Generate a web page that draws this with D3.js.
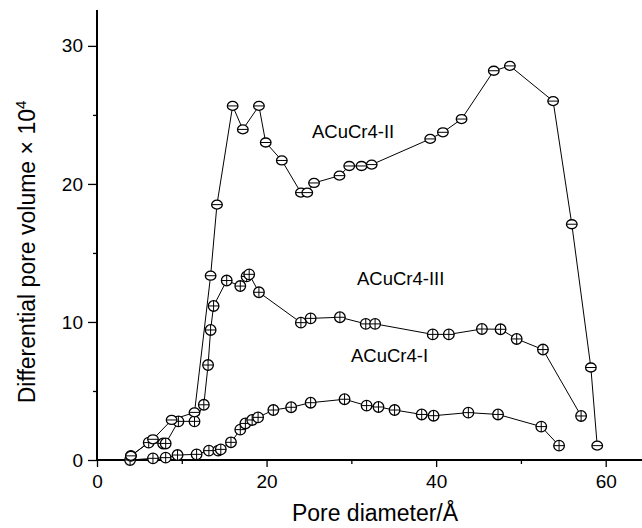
<!DOCTYPE html>
<html>
<head>
<meta charset="utf-8">
<script src="https://cdn.jsdelivr.net/npm/d3@7"></script>
<style>
  body { margin: 0; background: #fff; }
  svg { font-family: "Liberation Sans", Arial, sans-serif; }
</style>
</head>
<body>
<div id="chart"></div>
<script>
// pore size distributions
var seriesNames = ["ACuCr4-II", "ACuCr4-III", "ACuCr4-I"];

var xII = [4.0, 6.6, 8.8, 11.5, 13.4, 14.15, 16.0, 17.2, 19.1, 19.9, 21.8, 24.05, 24.8, 25.6, 28.6, 29.75, 31.2, 32.4, 39.3, 40.8, 43.0, 46.8, 48.7, 53.8, 56.0, 58.25, 59.0];
var yII = [0.3, 1.5, 2.9, 3.45, 13.35, 18.5, 25.65, 23.95, 25.65, 23.0, 21.7, 19.37, 19.37, 20.07, 20.6, 21.3, 21.3, 21.4, 23.26, 23.74, 24.7, 28.2, 28.55, 26.0, 17.08, 6.7, 1.04];

var xIII = [4.0, 6.1, 7.8, 8.1, 9.6, 11.5, 12.6, 13.1, 13.4, 13.75, 15.3, 16.9, 17.65, 17.95, 19.1, 24.05, 25.2, 28.65, 31.7, 32.8, 39.6, 41.5, 45.4, 47.6, 49.5, 52.6, 57.1];
var yIII = [0.3, 1.26, 1.2, 1.2, 2.8, 2.8, 4.0, 6.88, 9.42, 11.16, 13.0, 12.6, 13.3, 13.45, 12.15, 9.95, 10.26, 10.34, 9.86, 9.86, 9.1, 9.1, 9.49, 9.47, 8.77, 8.0, 3.19];

var xI = [3.9, 6.6, 8.1, 9.5, 11.75, 13.2, 14.3, 14.6, 15.8, 16.9, 17.5, 18.3, 19.0, 20.8, 22.9, 25.2, 29.2, 31.8, 33.2, 35.1, 38.3, 39.7, 43.8, 47.3, 52.4, 54.5];
var yI = [0.0, 0.12, 0.17, 0.36, 0.41, 0.68, 0.68, 0.77, 1.28, 2.2, 2.65, 2.9, 3.09, 3.62, 3.82, 4.15, 4.4, 3.94, 3.84, 3.62, 3.3, 3.21, 3.43, 3.3, 2.42, 1.04];

var xMajor = [0, 20, 40, 60];
var xMinor = [10, 30, 50];
var yMajor = [0, 10, 20, 30];
var yMinor = [5, 15, 25];

var W = 642, H = 528;

var svg = d3.select("#chart").append("svg")
    .attr("width", W)
    .attr("height", H);

var x = d3.scaleLinear().domain([0, 64.4]).range([97, 643]);
var y = d3.scaleLinear().domain([0, 32.6]).range([460, 10]);

function zip(xs, ys) {
    return xs.map(function(v, i) { return { x: v, y: ys[i] }; });
}
var dataII = zip(xII, yII);
var dataIII = zip(xIII, yIII);
var dataI = zip(xI, yI);

// axes
svg.append("g").attr("transform", "translate(0," + y(0) + ")")
    .call(d3.axisBottom(x).tickValues(xMajor).tickSize(7).tickPadding(8).tickFormat(d3.format("d")));
svg.append("g").attr("transform", "translate(0," + y(0) + ")")
    .call(d3.axisBottom(x).tickValues(xMinor).tickSize(4).tickFormat(""));

svg.append("g").attr("transform", "translate(" + x(0) + ",0)")
    .call(d3.axisLeft(y).tickValues(yMajor).tickSize(9).tickPadding(5).tickFormat(d3.format("d")));
svg.append("g").attr("transform", "translate(" + x(0) + ",0)")
    .call(d3.axisLeft(y).tickValues(yMinor).tickSize(4).tickFormat(""));

svg.selectAll(".domain").remove();
svg.selectAll(".tick line").attr("stroke", "#000").attr("stroke-width", 1.3);
svg.selectAll(".tick text").attr("fill", "#000").style("font-size", "19px");

svg.append("line")
    .attr("x1", x(0)).attr("x2", W)
    .attr("y1", y(0)).attr("y2", y(0))
    .attr("stroke", "#000").attr("stroke-width", 2);
svg.append("line")
    .attr("x1", x(0)).attr("x2", x(0))
    .attr("y1", y(0) + 1).attr("y2", y(32.6))
    .attr("stroke", "#000").attr("stroke-width", 2);

// axis titles
svg.append("text")
    .attr("x", 375).attr("y", 521)
    .attr("text-anchor", "middle")
    .style("font-size", "23px")
    .text("Pore diameter/Å");

var yt = svg.append("text")
    .attr("transform", "translate(35,252) rotate(-90)")
    .attr("text-anchor", "middle")
    .style("font-size", "23px");
yt.append("tspan").text("Differential pore volume × 10");
yt.append("tspan").attr("dy", -9).style("font-size", "15px").text("4");

// lines
var line = d3.line().x(function(d) { return x(d.x); }).y(function(d) { return y(d.y); });
[dataI, dataIII, dataII].forEach(function(data) {
    svg.append("path")
        .datum(data)
        .attr("d", line)
        .attr("fill", "none")
        .attr("stroke", "#000")
        .attr("stroke-width", 1);
});

// markers: crossed circles for I and III, barred ovals for II
function crossed(data) {
    var g = svg.append("g").selectAll("g").data(data).enter().append("g")
        .attr("transform", function(d) { return "translate(" + x(d.x) + "," + y(d.y) + ")"; });
    g.append("circle").attr("r", 5.3).attr("fill", "#fff").attr("stroke", "#000").attr("stroke-width", 1.3);
    g.append("line").attr("x1", -5.3).attr("x2", 5.3).attr("stroke", "#000").attr("stroke-width", 1);
    g.append("line").attr("y1", -5.3).attr("y2", 5.3).attr("stroke", "#000").attr("stroke-width", 1);
}
function barred(data) {
    var g = svg.append("g").selectAll("g").data(data).enter().append("g")
        .attr("transform", function(d) { return "translate(" + x(d.x) + "," + y(d.y) + ")"; });
    g.append("ellipse").attr("rx", 5.3).attr("ry", 4.5).attr("fill", "#fff").attr("stroke", "#000").attr("stroke-width", 1.3);
    g.append("line").attr("x1", -5.3).attr("x2", 5.3).attr("stroke", "#000").attr("stroke-width", 1);
}
crossed(dataI);
crossed(dataIII);
barred(dataII);

// series labels
var labelPos = [[312, 138], [357, 285], [351, 362]];
seriesNames.forEach(function(n, i) {
    svg.append("text")
        .attr("x", labelPos[i][0]).attr("y", labelPos[i][1])
        .style("font-size", "18.5px")
        .text(n);
});
</script>
</body>
</html>
